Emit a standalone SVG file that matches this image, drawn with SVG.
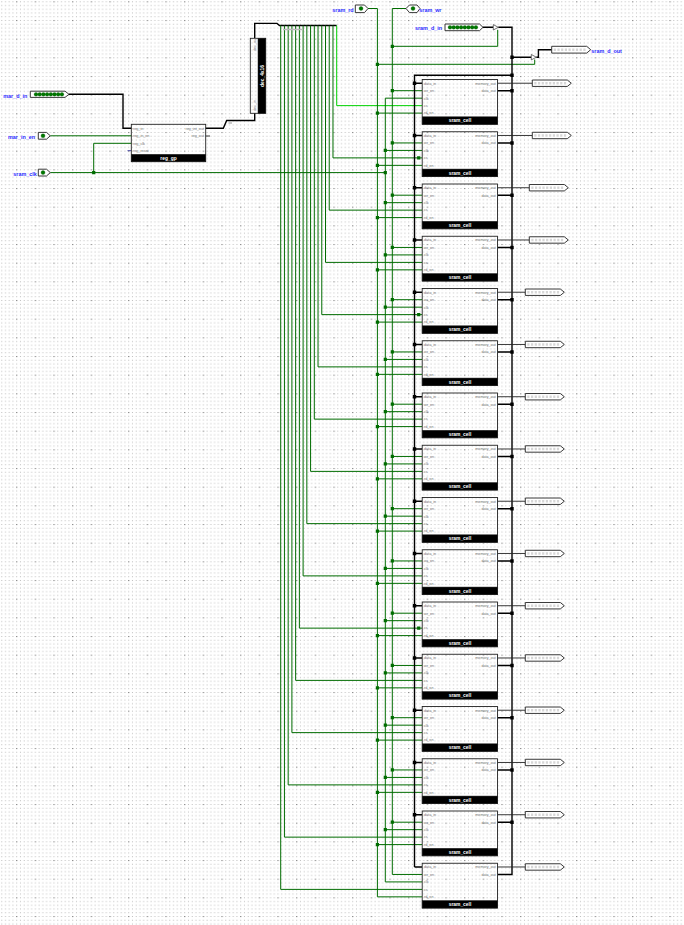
<svg xmlns="http://www.w3.org/2000/svg" width="684" height="925" viewBox="0 0 684 925">
<style>
text{font-family:"Liberation Sans",Arial,sans-serif}
.w{fill:none;stroke:#006c00;stroke-width:1}
.on{fill:none;stroke:#00d200;stroke-width:1}
.b{fill:none;stroke:#000;stroke-width:1.4}
.t{fill:none;stroke:#222;stroke-width:.9}
.jg{fill:none;stroke:#006c00;stroke-width:3.2;stroke-linecap:square}
.jb{fill:none;stroke:#000;stroke-width:3.4;stroke-linecap:square}
.box{fill:none;stroke:#222;stroke-width:.9}
.bar{fill:#000;stroke:#222;stroke-width:.5}
.pin{fill:#fff;stroke:#222;stroke-width:.9}
.dig{fill:none;stroke:#d6d6d6;stroke-width:2.4;stroke-dasharray:2.2 1.5}
.led{fill:#007800;stroke:#0a5a0a;stroke-width:.3}
.p{font-size:3.7px;fill:#777}
.r{text-anchor:end}
.ti{font-size:4.9px;font-weight:bold;fill:#fff;text-anchor:middle}
.lb{font-size:5.4px;font-weight:bold;fill:#2a2aff}
</style>
<defs>
<pattern id="grid" width="18.667" height="18.667" patternUnits="userSpaceOnUse" x="1.28" y="1.3">
<g fill="#bdbdbd">
<rect x="0" y="0" width="1" height="1"/><rect x="3.73" y="0" width="1" height="1"/><rect x="7.47" y="0" width="1" height="1"/><rect x="11.2" y="0" width="1" height="1"/>
<rect x="0" y="3.73" width="1" height="1"/><rect x="3.73" y="3.73" width="1" height="1"/><rect x="7.47" y="3.73" width="1" height="1"/><rect x="11.2" y="3.73" width="1" height="1"/><rect x="14.93" y="3.73" width="1" height="1"/>
<rect x="0" y="7.47" width="1" height="1"/><rect x="3.73" y="7.47" width="1" height="1"/><rect x="7.47" y="7.47" width="1" height="1"/><rect x="11.2" y="7.47" width="1" height="1"/><rect x="14.93" y="7.47" width="1" height="1"/>
<rect x="0" y="11.2" width="1" height="1"/><rect x="3.73" y="11.2" width="1" height="1"/><rect x="7.47" y="11.2" width="1" height="1"/><rect x="11.2" y="11.2" width="1" height="1"/><rect x="14.93" y="11.2" width="1" height="1"/>
<rect x="0" y="14.93" width="1" height="1"/><rect x="3.73" y="14.93" width="1" height="1"/><rect x="7.47" y="14.93" width="1" height="1"/><rect x="11.2" y="14.93" width="1" height="1"/><rect x="14.93" y="14.93" width="1" height="1"/>
</g>
<rect x="14.93" y="0" width="1.1" height="1.1" fill="#707070"/>
</pattern>
</defs>
<rect width="684" height="925" fill="#fff"/>
<rect width="684" height="925" fill="url(#grid)"/>

<g id="connectors">
<path class="b" d="M69 94.3H123V128.3H131.3"/>
<path class="b" d="M205.7 128.3H223.3L226.7 120.5H254.7V113.3M254.7 38.3V23.4H277L279.5 25.5H336.7"/>
<path class="t" d="M205.7 136H210"/>
<path fill="none" stroke="#33339a" stroke-width=".9" d="M127.5 150.7H131.3"/>
<path class="w" d="M50.3 135.8H131.3M50.3 172.6H385.3M93.7 172.6V143.3H131.3"/>
<path class="w" d="M332.97 25.5V157.88H422M329.23 25.5V210.13H422M325.5 25.5V262.38H422M321.77 25.5V314.63H422M318.03 25.5V366.88H422M314.3 25.5V419.13H422M310.57 25.5V471.38H422M306.83 25.5V523.63H422M303.1 25.5V575.88H422M299.37 25.5V628.13H422M295.63 25.5V680.38H422M291.9 25.5V732.63H422M288.17 25.5V784.88H422M284.43 25.5V837.13H422M280.7 25.5V889.38H422"/>
<path class="on" d="M336.7 25.5V105.63H422"/>
<path class="w" d="M368 8.5H377.4V896.85M377.4 64.3H534.7V59.5M406 8.5H392.3V874.45M392.3 46.3H497.7V29.8M385.3 98.17V881.92"/>
<path class="w" d="M392.3 90.7H422M392.3 142.95H422M392.3 195.2H422M392.3 247.45H422M392.3 299.7H422M392.3 351.95H422M392.3 404.2H422M392.3 456.45H422M392.3 508.7H422M392.3 560.95H422M392.3 613.2H422M392.3 665.45H422M392.3 717.7H422M392.3 769.95H422M392.3 822.2H422M392.3 874.45H422"/>
<path class="w" d="M385.3 98.17H422M385.3 150.42H422M385.3 202.67H422M385.3 254.92H422M385.3 307.17H422M385.3 359.42H422M385.3 411.67H422M385.3 463.92H422M385.3 516.17H422M385.3 568.42H422M385.3 620.67H422M385.3 672.92H422M385.3 725.17H422M385.3 777.42H422M385.3 829.67H422M385.3 881.92H422"/>
<path class="w" d="M377.4 113.1H422M377.4 165.35H422M377.4 217.6H422M377.4 269.85H422M377.4 322.1H422M377.4 374.35H422M377.4 426.6H422M377.4 478.85H422M377.4 531.1H422M377.4 583.35H422M377.4 635.6H422M377.4 687.85H422M377.4 740.1H422M377.4 792.35H422M377.4 844.6H422M377.4 896.85H422"/>
<path class="b" d="M483 27.3H493.3M498.3 27.3H512V874.45H498M512 57.2H531.3M536.3 57.2H538.4V49.7H551.7M414.5 866.98V75.3H512M414.5 866.98H422"/>
<path class="b" d="M414.5 83.23H422M414.5 135.48H422M414.5 187.73H422M414.5 239.98H422M414.5 292.23H422M414.5 344.48H422M414.5 396.73H422M414.5 448.98H422M414.5 501.23H422M414.5 553.48H422M414.5 605.73H422M414.5 657.98H422M414.5 710.23H422M414.5 762.48H422M414.5 814.73H422"/>
<path class="b" d="M498 90.7H512M498 142.95H512M498 195.2H512M498 247.45H512M498 299.7H512M498 351.95H512M498 404.2H512M498 456.45H512M498 508.7H512M498 560.95H512M498 613.2H512M498 665.45H512M498 717.7H512M498 769.95H512M498 822.2H512"/>
<path class="t" stroke-width="1" d="M498 83.23H532.3M498 135.48H532.3M498 187.73H529.3M498 239.98H529.3M498 292.23H525.3M498 344.48H525.3M498 396.73H525.3M498 448.98H525.3M498 501.23H525.3M498 553.48H525.3M498 605.73H525.3M498 657.98H525.3M498 710.23H525.3M498 762.48H525.3M498 814.73H525.3M498 866.98H525.3"/>
<path class="jg" d="M93.7 172.6h.01M385.3 172.6h.01M392.3 46.3h.01M377.4 64.3h.01"/>
<path class="jg" d="M392.3 90.7h.01M392.3 142.95h.01M392.3 195.2h.01M392.3 247.45h.01M392.3 299.7h.01M392.3 351.95h.01M392.3 404.2h.01M392.3 456.45h.01M392.3 508.7h.01M392.3 560.95h.01M392.3 613.2h.01M392.3 665.45h.01M392.3 717.7h.01M392.3 769.95h.01M392.3 822.2h.01"/>
<path class="jg" d="M385.3 150.42h.01M385.3 202.67h.01M385.3 254.92h.01M385.3 307.17h.01M385.3 359.42h.01M385.3 411.67h.01M385.3 463.92h.01M385.3 516.17h.01M385.3 568.42h.01M385.3 620.67h.01M385.3 672.92h.01M385.3 725.17h.01M385.3 777.42h.01M385.3 829.67h.01"/>
<path class="jg" d="M377.4 113.1h.01M377.4 165.35h.01M377.4 217.6h.01M377.4 269.85h.01M377.4 322.1h.01M377.4 374.35h.01M377.4 426.6h.01M377.4 478.85h.01M377.4 531.1h.01M377.4 583.35h.01M377.4 635.6h.01M377.4 687.85h.01M377.4 740.1h.01M377.4 792.35h.01M377.4 844.6h.01"/>
<path class="jg" d="M418.7 157.88h.01M418.7 314.63h.01M418.7 628.13h.01"/>
<path class="jb" d="M512 57.2h.01M512 75.3h.01M512 90.7h.01M512 142.95h.01M512 195.2h.01M512 247.45h.01M512 299.7h.01M512 351.95h.01M512 404.2h.01M512 456.45h.01M512 508.7h.01M512 560.95h.01M512 613.2h.01M512 665.45h.01M512 717.7h.01M512 769.95h.01M512 822.2h.01"/>
<path class="jb" d="M414.5 83.23h.01M414.5 135.48h.01M414.5 187.73h.01M414.5 239.98h.01M414.5 292.23h.01M414.5 344.48h.01M414.5 396.73h.01M414.5 448.98h.01M414.5 501.23h.01M414.5 553.48h.01M414.5 605.73h.01M414.5 657.98h.01M414.5 710.23h.01M414.5 762.48h.01M414.5 814.73h.01"/>
<path fill="none" stroke="#bbb" stroke-width="1.6" d="M283 29.5H303M228.5 123H232"/>
<polygon points="493.3,24.6 498.3,27.3 493.3,30" fill="#fff" stroke="#333" stroke-width=".7"/>
<polygon points="531.3,54.5 536.3,57.2 531.3,59.9" fill="#fff" stroke="#333" stroke-width=".7"/>
</g>

<g id="mar_d_in"><path class="pin" d="M30.3 91.2H65L69 94.3L65 97.4H30.3Z"/><g class="led"><circle cx="36" cy="94.3" r="1.9"/><circle cx="39.7" cy="94.3" r="1.9"/><circle cx="43.4" cy="94.3" r="1.9"/><circle cx="47.1" cy="94.3" r="1.9"/><circle cx="50.8" cy="94.3" r="1.9"/><circle cx="54.5" cy="94.3" r="1.9"/><circle cx="58.2" cy="94.3" r="1.9"/><circle cx="61.9" cy="94.3" r="1.9"/></g><text class="lb" x="3.3" y="98">mar_d_in</text></g>
<g id="mar_in_en"><path class="pin" d="M38.3 132.4H46.5L50.3 135.8L46.5 139.2H38.3Z"/><circle class="led" cx="43" cy="135.8" r="2"/><text class="lb" x="8" y="139">mar_in_en</text></g>
<g id="sram_clk"><path class="pin" d="M38.3 169.2H46.5L50.3 172.6L46.5 176H38.3Z"/><circle class="led" cx="43" cy="172.6" r="2"/><text class="lb" x="13.3" y="176">sram_clk</text></g>
<g id="sram_rd"><path class="pin" d="M355.3 5H364.5L368 8.5L364.5 12.6H355.3Z"/><circle class="led" cx="361" cy="8.5" r="2"/><text class="lb" x="332.3" y="12">sram_rd</text></g>
<g id="sram_wr"><path class="pin" d="M409.5 5H417L420 8.5L417 12.6H409.5L406 8.5Z"/><circle class="led" cx="413" cy="8.5" r="2"/><text class="lb" x="419.3" y="12">sram_wr</text></g>
<g id="sram_d_in"><path class="pin" d="M445 24H479.5L483 27.3L479.5 30.7H445Z"/><g class="led"><circle cx="450" cy="27.3" r="1.9"/><circle cx="453.7" cy="27.3" r="1.9"/><circle cx="457.4" cy="27.3" r="1.9"/><circle cx="461.1" cy="27.3" r="1.9"/><circle cx="464.8" cy="27.3" r="1.9"/><circle cx="468.5" cy="27.3" r="1.9"/><circle cx="472.2" cy="27.3" r="1.9"/><circle cx="475.9" cy="27.3" r="1.9"/></g><text class="lb" x="415" y="30">sram_d_in</text></g>
<g id="sram_d_out" transform="translate(551.7 49.7)"><path class="pin" d="M0-3.4H35L39 0L35 3.4H0Z"/><path class="dig" d="M2 0H34"/><text class="lb" x="39.6" y="3">sram_d_out</text></g>

<g id="reg_gp"><rect class="box" x="131.3" y="124.3" width="74.4" height="37.4"/><rect class="bar" x="131.3" y="154.3" width="74.4" height="7.4"/><text class="p" x="133" y="129.6">reg_in</text><text class="p" x="133" y="137.2">reg_in_en</text><text class="p" x="133" y="144.6">reg_clk</text><text class="p" x="133" y="152">reg_reset</text><text class="p r" x="204" y="129.6">reg_int_out</text><text class="p r" x="204" y="137.2">reg_out</text><text class="ti" x="168.5" y="159.7">reg_gp</text></g>
<g id="dec_4x16"><rect class="box" x="250.3" y="38.3" width="15.4" height="75"/><rect class="bar" x="258" y="38.3" width="7.7" height="75"/><text class="ti" transform="translate(263.7 76) rotate(-90)">dec_4x16</text><text class="p" transform="translate(255.8 51) rotate(-90)">dec_out</text><text class="p" transform="translate(255.8 111) rotate(-90)">dec_in</text></g>

<g id="cell_0" transform="translate(0 79.5)"><rect class="box" x="422.2" width="75.3" height="44.8"/><rect class="bar" x="422.2" y="37.3" width="75.3" height="7.5"/><text class="p" x="424" y="5">data_in</text><text class="p" x="424" y="12.5">wr_en</text><text class="p" x="424" y="20">clk</text><text class="p" x="424" y="27.4">cs</text><text class="p" x="424" y="34.9">rd_en</text><text class="p r" x="495.8" y="5">memory_out</text><text class="p r" x="495.8" y="12.5">data_out</text><text class="ti" x="460" y="42.8">sram_cell</text></g>
<g id="cell_1" transform="translate(0 131.75)"><rect class="box" x="422.2" width="75.3" height="44.8"/><rect class="bar" x="422.2" y="37.3" width="75.3" height="7.5"/><text class="p" x="424" y="5">data_in</text><text class="p" x="424" y="12.5">wr_en</text><text class="p" x="424" y="20">clk</text><text class="p" x="424" y="27.4">cs</text><text class="p" x="424" y="34.9">rd_en</text><text class="p r" x="495.8" y="5">memory_out</text><text class="p r" x="495.8" y="12.5">data_out</text><text class="ti" x="460" y="42.8">sram_cell</text></g>
<g id="cell_2" transform="translate(0 184)"><rect class="box" x="422.2" width="75.3" height="44.8"/><rect class="bar" x="422.2" y="37.3" width="75.3" height="7.5"/><text class="p" x="424" y="5">data_in</text><text class="p" x="424" y="12.5">wr_en</text><text class="p" x="424" y="20">clk</text><text class="p" x="424" y="27.4">cs</text><text class="p" x="424" y="34.9">rd_en</text><text class="p r" x="495.8" y="5">memory_out</text><text class="p r" x="495.8" y="12.5">data_out</text><text class="ti" x="460" y="42.8">sram_cell</text></g>
<g id="cell_3" transform="translate(0 236.25)"><rect class="box" x="422.2" width="75.3" height="44.8"/><rect class="bar" x="422.2" y="37.3" width="75.3" height="7.5"/><text class="p" x="424" y="5">data_in</text><text class="p" x="424" y="12.5">wr_en</text><text class="p" x="424" y="20">clk</text><text class="p" x="424" y="27.4">cs</text><text class="p" x="424" y="34.9">rd_en</text><text class="p r" x="495.8" y="5">memory_out</text><text class="p r" x="495.8" y="12.5">data_out</text><text class="ti" x="460" y="42.8">sram_cell</text></g>
<g id="cell_4" transform="translate(0 288.5)"><rect class="box" x="422.2" width="75.3" height="44.8"/><rect class="bar" x="422.2" y="37.3" width="75.3" height="7.5"/><text class="p" x="424" y="5">data_in</text><text class="p" x="424" y="12.5">wr_en</text><text class="p" x="424" y="20">clk</text><text class="p" x="424" y="27.4">cs</text><text class="p" x="424" y="34.9">rd_en</text><text class="p r" x="495.8" y="5">memory_out</text><text class="p r" x="495.8" y="12.5">data_out</text><text class="ti" x="460" y="42.8">sram_cell</text></g>
<g id="cell_5" transform="translate(0 340.75)"><rect class="box" x="422.2" width="75.3" height="44.8"/><rect class="bar" x="422.2" y="37.3" width="75.3" height="7.5"/><text class="p" x="424" y="5">data_in</text><text class="p" x="424" y="12.5">wr_en</text><text class="p" x="424" y="20">clk</text><text class="p" x="424" y="27.4">cs</text><text class="p" x="424" y="34.9">rd_en</text><text class="p r" x="495.8" y="5">memory_out</text><text class="p r" x="495.8" y="12.5">data_out</text><text class="ti" x="460" y="42.8">sram_cell</text></g>
<g id="cell_6" transform="translate(0 393)"><rect class="box" x="422.2" width="75.3" height="44.8"/><rect class="bar" x="422.2" y="37.3" width="75.3" height="7.5"/><text class="p" x="424" y="5">data_in</text><text class="p" x="424" y="12.5">wr_en</text><text class="p" x="424" y="20">clk</text><text class="p" x="424" y="27.4">cs</text><text class="p" x="424" y="34.9">rd_en</text><text class="p r" x="495.8" y="5">memory_out</text><text class="p r" x="495.8" y="12.5">data_out</text><text class="ti" x="460" y="42.8">sram_cell</text></g>
<g id="cell_7" transform="translate(0 445.25)"><rect class="box" x="422.2" width="75.3" height="44.8"/><rect class="bar" x="422.2" y="37.3" width="75.3" height="7.5"/><text class="p" x="424" y="5">data_in</text><text class="p" x="424" y="12.5">wr_en</text><text class="p" x="424" y="20">clk</text><text class="p" x="424" y="27.4">cs</text><text class="p" x="424" y="34.9">rd_en</text><text class="p r" x="495.8" y="5">memory_out</text><text class="p r" x="495.8" y="12.5">data_out</text><text class="ti" x="460" y="42.8">sram_cell</text></g>
<g id="cell_8" transform="translate(0 497.5)"><rect class="box" x="422.2" width="75.3" height="44.8"/><rect class="bar" x="422.2" y="37.3" width="75.3" height="7.5"/><text class="p" x="424" y="5">data_in</text><text class="p" x="424" y="12.5">wr_en</text><text class="p" x="424" y="20">clk</text><text class="p" x="424" y="27.4">cs</text><text class="p" x="424" y="34.9">rd_en</text><text class="p r" x="495.8" y="5">memory_out</text><text class="p r" x="495.8" y="12.5">data_out</text><text class="ti" x="460" y="42.8">sram_cell</text></g>
<g id="cell_9" transform="translate(0 549.75)"><rect class="box" x="422.2" width="75.3" height="44.8"/><rect class="bar" x="422.2" y="37.3" width="75.3" height="7.5"/><text class="p" x="424" y="5">data_in</text><text class="p" x="424" y="12.5">wr_en</text><text class="p" x="424" y="20">clk</text><text class="p" x="424" y="27.4">cs</text><text class="p" x="424" y="34.9">rd_en</text><text class="p r" x="495.8" y="5">memory_out</text><text class="p r" x="495.8" y="12.5">data_out</text><text class="ti" x="460" y="42.8">sram_cell</text></g>
<g id="cell_10" transform="translate(0 602)"><rect class="box" x="422.2" width="75.3" height="44.8"/><rect class="bar" x="422.2" y="37.3" width="75.3" height="7.5"/><text class="p" x="424" y="5">data_in</text><text class="p" x="424" y="12.5">wr_en</text><text class="p" x="424" y="20">clk</text><text class="p" x="424" y="27.4">cs</text><text class="p" x="424" y="34.9">rd_en</text><text class="p r" x="495.8" y="5">memory_out</text><text class="p r" x="495.8" y="12.5">data_out</text><text class="ti" x="460" y="42.8">sram_cell</text></g>
<g id="cell_11" transform="translate(0 654.25)"><rect class="box" x="422.2" width="75.3" height="44.8"/><rect class="bar" x="422.2" y="37.3" width="75.3" height="7.5"/><text class="p" x="424" y="5">data_in</text><text class="p" x="424" y="12.5">wr_en</text><text class="p" x="424" y="20">clk</text><text class="p" x="424" y="27.4">cs</text><text class="p" x="424" y="34.9">rd_en</text><text class="p r" x="495.8" y="5">memory_out</text><text class="p r" x="495.8" y="12.5">data_out</text><text class="ti" x="460" y="42.8">sram_cell</text></g>
<g id="cell_12" transform="translate(0 706.5)"><rect class="box" x="422.2" width="75.3" height="44.8"/><rect class="bar" x="422.2" y="37.3" width="75.3" height="7.5"/><text class="p" x="424" y="5">data_in</text><text class="p" x="424" y="12.5">wr_en</text><text class="p" x="424" y="20">clk</text><text class="p" x="424" y="27.4">cs</text><text class="p" x="424" y="34.9">rd_en</text><text class="p r" x="495.8" y="5">memory_out</text><text class="p r" x="495.8" y="12.5">data_out</text><text class="ti" x="460" y="42.8">sram_cell</text></g>
<g id="cell_13" transform="translate(0 758.75)"><rect class="box" x="422.2" width="75.3" height="44.8"/><rect class="bar" x="422.2" y="37.3" width="75.3" height="7.5"/><text class="p" x="424" y="5">data_in</text><text class="p" x="424" y="12.5">wr_en</text><text class="p" x="424" y="20">clk</text><text class="p" x="424" y="27.4">cs</text><text class="p" x="424" y="34.9">rd_en</text><text class="p r" x="495.8" y="5">memory_out</text><text class="p r" x="495.8" y="12.5">data_out</text><text class="ti" x="460" y="42.8">sram_cell</text></g>
<g id="cell_14" transform="translate(0 811)"><rect class="box" x="422.2" width="75.3" height="44.8"/><rect class="bar" x="422.2" y="37.3" width="75.3" height="7.5"/><text class="p" x="424" y="5">data_in</text><text class="p" x="424" y="12.5">wr_en</text><text class="p" x="424" y="20">clk</text><text class="p" x="424" y="27.4">cs</text><text class="p" x="424" y="34.9">rd_en</text><text class="p r" x="495.8" y="5">memory_out</text><text class="p r" x="495.8" y="12.5">data_out</text><text class="ti" x="460" y="42.8">sram_cell</text></g>
<g id="cell_15" transform="translate(0 863.25)"><rect class="box" x="422.2" width="75.3" height="44.8"/><rect class="bar" x="422.2" y="37.3" width="75.3" height="7.5"/><text class="p" x="424" y="5">data_in</text><text class="p" x="424" y="12.5">wr_en</text><text class="p" x="424" y="20">clk</text><text class="p" x="424" y="27.4">cs</text><text class="p" x="424" y="34.9">rd_en</text><text class="p r" x="495.8" y="5">memory_out</text><text class="p r" x="495.8" y="12.5">data_out</text><text class="ti" x="460" y="42.8">sram_cell</text></g>

<g id="out_0" transform="translate(532.3 83.23)"><path class="pin" d="M0-3.2H35L39 0L35 3.2H0Z"/><path class="dig" d="M2 0H34"/></g>
<g id="out_1" transform="translate(532.3 135.48)"><path class="pin" d="M0-3.2H35L39 0L35 3.2H0Z"/><path class="dig" d="M2 0H34"/></g>
<g id="out_2" transform="translate(529.3 187.73)"><path class="pin" d="M0-3.2H35L39 0L35 3.2H0Z"/><path class="dig" d="M2 0H34"/></g>
<g id="out_3" transform="translate(529.3 239.98)"><path class="pin" d="M0-3.2H35L39 0L35 3.2H0Z"/><path class="dig" d="M2 0H34"/></g>
<g id="out_4" transform="translate(525.3 292.23)"><path class="pin" d="M0-3.2H35L39 0L35 3.2H0Z"/><path class="dig" d="M2 0H34"/></g>
<g id="out_5" transform="translate(525.3 344.48)"><path class="pin" d="M0-3.2H35L39 0L35 3.2H0Z"/><path class="dig" d="M2 0H34"/></g>
<g id="out_6" transform="translate(525.3 396.73)"><path class="pin" d="M0-3.2H35L39 0L35 3.2H0Z"/><path class="dig" d="M2 0H34"/></g>
<g id="out_7" transform="translate(525.3 448.98)"><path class="pin" d="M0-3.2H35L39 0L35 3.2H0Z"/><path class="dig" d="M2 0H34"/></g>
<g id="out_8" transform="translate(525.3 501.23)"><path class="pin" d="M0-3.2H35L39 0L35 3.2H0Z"/><path class="dig" d="M2 0H34"/></g>
<g id="out_9" transform="translate(525.3 553.48)"><path class="pin" d="M0-3.2H35L39 0L35 3.2H0Z"/><path class="dig" d="M2 0H34"/></g>
<g id="out_10" transform="translate(525.3 605.73)"><path class="pin" d="M0-3.2H35L39 0L35 3.2H0Z"/><path class="dig" d="M2 0H34"/></g>
<g id="out_11" transform="translate(525.3 657.98)"><path class="pin" d="M0-3.2H35L39 0L35 3.2H0Z"/><path class="dig" d="M2 0H34"/></g>
<g id="out_12" transform="translate(525.3 710.23)"><path class="pin" d="M0-3.2H35L39 0L35 3.2H0Z"/><path class="dig" d="M2 0H34"/></g>
<g id="out_13" transform="translate(525.3 762.48)"><path class="pin" d="M0-3.2H35L39 0L35 3.2H0Z"/><path class="dig" d="M2 0H34"/></g>
<g id="out_14" transform="translate(525.3 814.73)"><path class="pin" d="M0-3.2H35L39 0L35 3.2H0Z"/><path class="dig" d="M2 0H34"/></g>
<g id="out_15" transform="translate(525.3 866.98)"><path class="pin" d="M0-3.2H35L39 0L35 3.2H0Z"/><path class="dig" d="M2 0H34"/></g>
</svg>
